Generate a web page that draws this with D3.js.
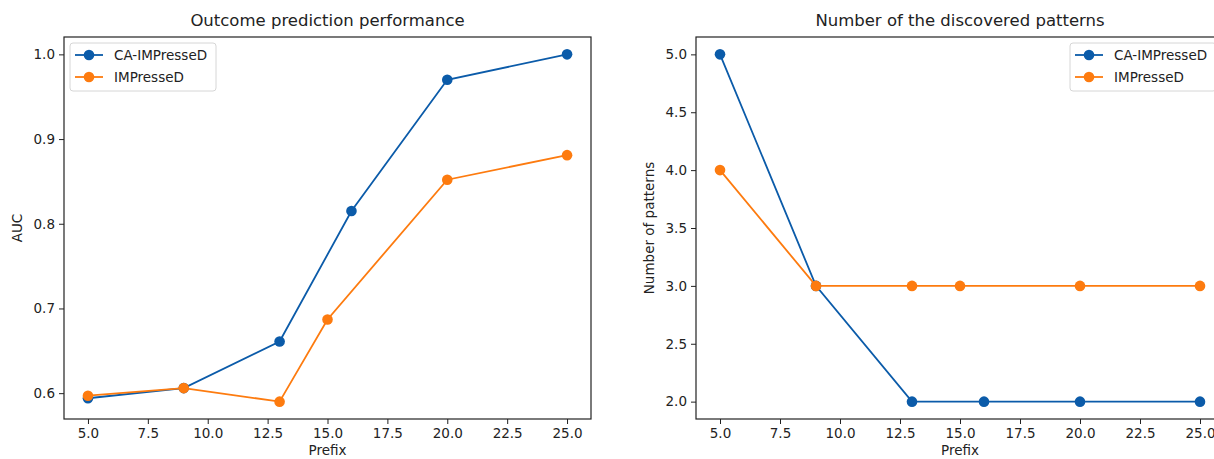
<!DOCTYPE html>
<html>
<head>
<meta charset="utf-8">
<script src="https://cdn.jsdelivr.net/npm/d3@7"></script>
<style>
  body { margin: 0; background: #fff; overflow: hidden; }
  text { font-family: "DejaVu Sans", sans-serif; fill: #222; }
</style>
</head>
<body>
<div id="chart"></div>
<script>
// data
var seriesNames = ["CA-IMPresseD", "IMPresseD"];
var seriesColors = ["#0b5ba9", "#fd7b0f"];

var prefixCA = [5, 9, 13, 16, 20, 25];
var prefixIM = [5, 9, 13, 15, 20, 25];

var aucCA = [0.594, 0.606, 0.661, 0.815, 0.970, 1.000];
var aucIM = [0.597, 0.606, 0.590, 0.687, 0.852, 0.881];

var patternsCA = [5, 3, 2, 2, 2, 2];
var patternsIM = [4, 3, 3, 3, 3, 3];

var xTicks = [5, 7.5, 10, 12.5, 15, 17.5, 20, 22.5, 25];
var aucTicks = [0.6, 0.7, 0.8, 0.9, 1.0];
var patternTicks = [2, 2.5, 3, 3.5, 4, 4.5, 5];

var svg = d3.select("#chart")
    .append("svg")
    .attr("width", 1214)
    .attr("height", 459);

// matplotlib-like 5% padding around data
function padded(vals) {
  var ext = d3.extent(vals);
  var m = (ext[1] - ext[0]) * 0.05;
  return [ext[0] - m, ext[1] + m];
}

function panel(opt) {
  var g = svg.append("g");
  var x = d3.scaleLinear()
      .domain(padded(prefixCA.concat(prefixIM)))
      .range([opt.left, opt.right]);
  var y = d3.scaleLinear()
      .domain(padded(opt.series[0].concat(opt.series[1])))
      .range([opt.bottom, opt.top]);

  // axes
  var xa = g.append("g")
      .attr("transform", "translate(0," + opt.bottom + ")")
      .call(d3.axisBottom(x).tickValues(xTicks).tickFormat(d3.format(".1f")).tickSize(5).tickPadding(4));
  var ya = g.append("g")
      .attr("transform", "translate(" + opt.left + ",0)")
      .call(d3.axisLeft(y).tickValues(opt.yTicks).tickFormat(d3.format(".1f")).tickSize(5).tickPadding(4));
  [xa, ya].forEach(function(a) {
    a.select(".domain").remove();
    a.selectAll(".tick line").attr("stroke", "#222").attr("stroke-width", 1);
    a.selectAll(".tick text").attr("font-size", 13.5).attr("fill", "#222")
        .attr("font-family", "DejaVu Sans, sans-serif");
  });

  // frame
  g.append("rect")
      .attr("x", opt.left)
      .attr("y", opt.top)
      .attr("width", opt.right - opt.left)
      .attr("height", opt.bottom - opt.top)
      .attr("fill", "none")
      .attr("stroke", "#222")
      .attr("stroke-width", 1.2);

  var line = d3.line()
      .x(function(d) { return x(d[0]); })
      .y(function(d) { return y(d[1]); });

  var xs = [prefixCA, prefixIM];
  opt.series.forEach(function(vals, i) {
    var pts = vals.map(function(v, j) { return [xs[i][j], v]; });
    g.append("path")
        .datum(pts)
        .attr("fill", "none")
        .attr("stroke", seriesColors[i])
        .attr("stroke-width", 1.8)
        .attr("d", line);
    g.selectAll(".pt" + i)
        .data(pts)
        .enter()
        .append("circle")
        .attr("cx", function(d) { return x(d[0]); })
        .attr("cy", function(d) { return y(d[1]); })
        .attr("r", 5.3)
        .attr("fill", seriesColors[i]);
  });

  // title + labels
  g.append("text")
      .attr("x", (opt.left + opt.right) / 2)
      .attr("y", 26)
      .attr("text-anchor", "middle")
      .attr("font-size", 16.5)
      .text(opt.title);
  g.append("text")
      .attr("x", (opt.left + opt.right) / 2)
      .attr("y", 455)
      .attr("text-anchor", "middle")
      .attr("font-size", 13.5)
      .text("Prefix");
  g.append("text")
      .attr("transform", "translate(" + opt.ylabelX + "," + ((opt.top + opt.bottom) / 2) + ") rotate(-90)")
      .attr("text-anchor", "middle")
      .attr("font-size", 13.5)
      .text(opt.ylabel);

  // legend
  var lg = g.append("g").attr("transform", "translate(" + opt.legendX + "," + 43 + ")");
  lg.append("rect")
      .attr("width", 146)
      .attr("height", 48)
      .attr("rx", 3)
      .attr("fill", "#fff")
      .attr("fill-opacity", 0.85)
      .attr("stroke", "#d6d6d6");
  seriesNames.forEach(function(name, i) {
    var yy = 12 + i * 22;
    lg.append("line")
        .attr("x1", 5).attr("x2", 33)
        .attr("y1", yy).attr("y2", yy)
        .attr("stroke", seriesColors[i])
        .attr("stroke-width", 1.8);
    lg.append("circle")
        .attr("cx", 19).attr("cy", yy).attr("r", 5.3)
        .attr("fill", seriesColors[i]);
    lg.append("text")
        .attr("x", 44)
        .attr("y", yy + 5)
        .attr("font-size", 13.5)
        .text(name);
  });
}

panel({
  left: 64, right: 591, top: 37, bottom: 419,
  series: [aucCA, aucIM],
  yTicks: aucTicks,
  title: "Outcome prediction performance",
  ylabel: "AUC",
  ylabelX: 22,
  legendX: 70
});

panel({
  left: 696, right: 1224, top: 37, bottom: 419,
  series: [patternsCA, patternsIM],
  yTicks: patternTicks,
  title: "Number of the discovered patterns",
  ylabel: "Number of patterns",
  ylabelX: 654,
  legendX: 1070
});
</script>
</body>
</html>
